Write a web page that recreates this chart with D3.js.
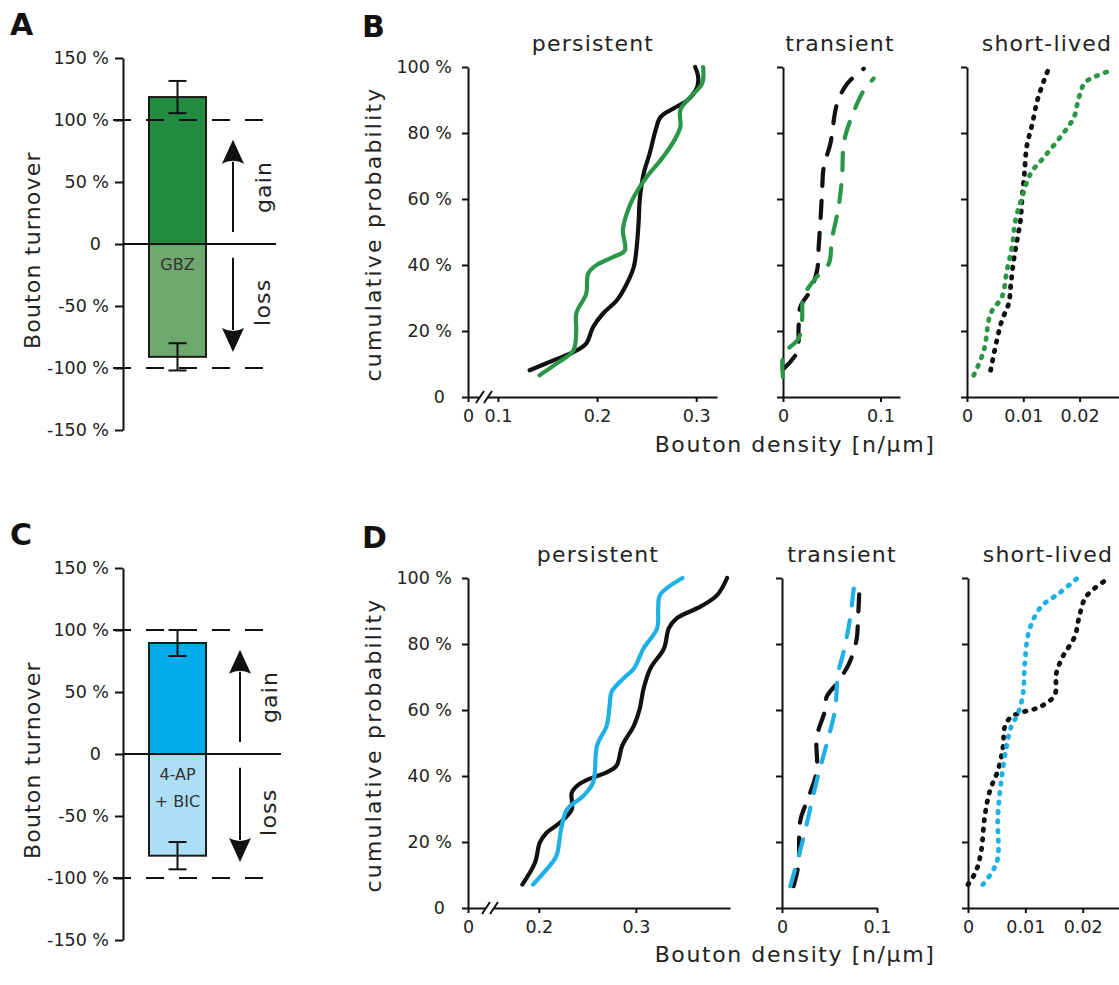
<!DOCTYPE html>
<html><head><meta charset="utf-8">
<script src="https://cdn.jsdelivr.net/npm/d3@7"></script>
<style>
body{margin:0;background:#fff}
svg{display:block}
text{font-family:"DejaVu Sans",sans-serif;fill:#222}
.big{font-size:22px;letter-spacing:1.2px}
</style>
</head><body><svg id="c" width="1119" height="985"></svg>
<script>
// ---------- data ----------
const turnoverTicks = [-150, -100, -50, 0, 50, 100, 150];
const gbzGain = 118.5, gbzGainErr = 13, gbzLoss = -91, gbzLossErr = 11;
const apGain = 89.5, apGainErr = 10.5, apLoss = -82, apLossErr = 11;
const probTicks = [0, 20, 40, 60, 80, 100];

// B persistent
const bPersCtrlX = [0.132,0.156,0.176,0.189,0.196,0.206,0.220,0.230,0.237,0.240,0.242,0.243,0.247,0.253,0.259,0.264,0.277,0.291,0.301,0.302,0.299];
const bPersCtrlP = [8.1,11.1,13.6,16.2,21.2,25.3,29.3,34.3,39.4,45.5,53.5,59.6,67.7,73.7,80.8,84.8,87.4,89.9,93.9,97,100];
const bPersGbzX = [0.142,0.159,0.176,0.179,0.179,0.189,0.191,0.199,0.216,0.228,0.226,0.230,0.237,0.250,0.264,0.277,0.284,0.284,0.294,0.306,0.307];
const bPersGbzP = [6.6,10.1,14.1,20.2,25.3,31.3,37.4,39.9,42.4,44.4,50.5,55.6,60.6,66.7,71.7,77.3,81.8,86.9,90.9,95,100];
// B transient
const bTranCtrlX = [0.0007,0.0144,0.016,0.0178,0.0281,0.035,0.0366,0.0384,0.040,0.0418,0.0486,0.0555,0.0658,0.0829];
const bTranCtrlP = [8.6,13.6,21.2,27.3,32.3,38.4,45.5,53.5,61.6,69.7,76.8,88.9,94.9,99.5];
const bTranGbzX = [0.0,0.0007,0.016,0.0195,0.021,0.0332,0.047,0.050,0.057,0.0606,0.0623,0.069,0.0829,0.093];
const bTranGbzP = [6,13,17.7,23.2,30.3,35.9,40.4,47.5,57.6,66.7,76.8,83.8,92.9,96.5];
// B short-lived
const bShortCtrlX = [0.0042,0.0053,0.0062,0.0074,0.0078,0.0083,0.0089,0.0095,0.0098,0.0102,0.0106,0.0116,0.0125,0.0137,0.0145];
const bShortCtrlP = [8.1,17.2,23.2,28.3,34.3,41.4,47.5,53.5,60.6,67.7,75.8,82.8,89.9,96,99.5];
const bShortGbzX = [0.0012,0.003,0.0042,0.0062,0.0071,0.008,0.0086,0.0098,0.0113,0.0137,0.0166,0.019,0.0199,0.0211,0.0258];
const bShortGbzP = [6.6,14.1,25.3,30.3,38.4,45.5,53.5,60.6,67.7,72.7,78.8,84.8,90.9,95.5,99];
// D persistent
const dPersCtrlX = [0.183,0.196,0.201,0.208,0.222,0.234,0.234,0.242,0.256,0.270,0.280,0.286,0.298,0.304,0.308,0.315,0.329,0.334,0.342,0.367,0.384,0.394];
const dPersCtrlP = [7.1,13.7,19.8,22.8,25.9,29.9,35,37.6,39.6,41.1,43.1,49.2,55.3,60.4,66.5,72.6,78.7,84.8,87.8,91.4,94.9,100];
const dPersApX = [0.194,0.208,0.218,0.223,0.229,0.246,0.256,0.260,0.270,0.273,0.275,0.287,0.298,0.308,0.322,0.323,0.325,0.348];
const dPersApP = [7.1,11.7,15.7,23.9,29.9,34,38.1,49.2,55.3,61.4,65.5,69.5,72.6,78.7,84.8,90.9,94.9,100];
// D transient
const dTranCtrlX = [0.0122,0.0174,0.0192,0.0279,0.0366,0.0366,0.0453,0.047,0.059,0.0714,0.0784,0.0801,0.0819];
const dTranCtrlP = [6.6,13.2,26.4,33.5,41.6,51.8,59.9,64,68.5,74.6,81.2,88.3,99.5];
const dTranApX = [0.0087,0.0209,0.0366,0.047,0.0557,0.059,0.0645,0.0714,0.0767];
const dTranApP = [6.6,19.3,38.6,49.7,59.9,71.1,77.2,87.3,100];
// D short-lived
const dShortCtrlX = [0.0,0.0014,0.0023,0.0029,0.0038,0.0052,0.0061,0.0064,0.0075,0.0096,0.0125,0.0151,0.0154,0.0165,0.0186,0.0194,0.0206,0.0246];
const dShortCtrlP = [7.1,11.2,17.3,27.4,35.5,41.6,48.7,54.8,57.9,59.4,60.9,64.5,71.1,76.1,82.2,88.3,94.4,100];
const dShortApX = [0.0026,0.0043,0.0052,0.0052,0.0058,0.0067,0.0075,0.0087,0.0096,0.0099,0.0107,0.0128,0.0159,0.0191];
const dShortApP = [7.1,11.2,15.2,27.4,38.6,48.7,54.8,58.9,65,74.1,84.3,91.4,95.4,100];

const panelTitles = ["persistent", "transient", "short-lived"];

// ---------- styles ----------
const BLACK = "#111", GREEN = "#2a9646", BLUE = "#1eb0e6";
const svg = d3.select("#c");

function pctFmt(d){ return d === 0 ? "0" : d + " %"; }

function styleAxis(g){
  g.attr("font-family", null).attr("font-size", null);
  g.selectAll("path.domain, .tick line").attr("stroke", "#111").attr("stroke-width", 2);
  g.selectAll(".tick text").style("font-size", "17.5px").style("font-family", '"DejaVu Sans",sans-serif').style("fill", "#222");
}

// ---------- turnover panels ----------
function turnover(cfg){
  const g = svg.append("g");
  const y = d3.scaleLinear().domain([-150, 150]).range([cfg.top + 372, cfg.top]);
  const axX = 123;
  const xb = d3.scaleBand().domain([cfg.label]).range([axX, axX + 109]).padding(0.313);
  g.append("rect").attr("x", xb(cfg.label)).attr("width", xb.bandwidth())
    .attr("y", y(cfg.gain)).attr("height", y(0) - y(cfg.gain))
    .attr("fill", cfg.cGain).attr("stroke", "#1a1a1a").attr("stroke-width", 2);
  g.append("rect").attr("x", xb(cfg.label)).attr("width", xb.bandwidth())
    .attr("y", y(0)).attr("height", y(cfg.loss) - y(0))
    .attr("fill", cfg.cLoss).attr("stroke", "#1a1a1a").attr("stroke-width", 2);
  [100, -100].forEach(v => g.append("line").attr("x1", axX - 10).attr("x2", 268)
    .attr("y1", y(v)).attr("y2", y(v)).attr("stroke", "#111").attr("stroke-width", 2)
    .attr("stroke-dasharray", "18,15"));
  g.append("line").attr("x1", axX).attr("x2", cfg.zeroEnd).attr("y1", y(0)).attr("y2", y(0))
    .attr("stroke", "#111").attr("stroke-width", 2);
  const cx = xb(cfg.label) + xb.bandwidth() / 2;
  [[cfg.gain, cfg.gainErr], [cfg.loss, cfg.lossErr]].forEach(([m, e]) => {
    g.append("line").attr("x1", cx).attr("x2", cx).attr("y1", y(m - e)).attr("y2", y(m + e))
      .attr("stroke", "#111").attr("stroke-width", 2);
    [m - e, m + e].forEach(v => g.append("line").attr("x1", cx - 9).attr("x2", cx + 9)
      .attr("y1", y(v)).attr("y2", y(v)).attr("stroke", "#111").attr("stroke-width", 2));
  });
  const ax = g.append("g").attr("transform", `translate(${axX},0)`)
    .call(d3.axisLeft(y).tickValues(turnoverTicks).tickSize(8).tickPadding(6).tickSizeOuter(0).tickFormat(pctFmt));
  styleAxis(ax);
  ax.selectAll(".tick text").filter(d => d === 0).attr("dx", "-8");
  cfg.text.forEach((t, i) => g.append("text").attr("x", cx).attr("y", y(cfg.textAt) + i * 27)
    .attr("text-anchor", "middle").style("font-size", "16px").style("fill", "#333").text(t));
  const ax2 = cfg.arrowX;
  function arrow(from, to){
    const yf = y(from), yt = y(to), dir = yt < yf ? 1 : -1;
    const yb = yt + dir * 22;
    g.append("line").attr("x1", ax2).attr("x2", ax2).attr("y1", yf).attr("y2", yb)
      .attr("stroke", "#111").attr("stroke-width", 2);
    g.append("path").attr("d", `M${ax2},${yt} L${ax2 - 11},${yb + dir * 2} Q${ax2},${yb - dir * 4} ${ax2 + 11},${yb + dir * 2} Z`)
      .attr("fill", "#111");
  }
  arrow(9.7, 84);
  arrow(-11, -87);
  g.append("text").attr("class", "big").attr("transform", `translate(${cfg.wordX},${y(46)}) rotate(-90)`)
    .attr("text-anchor", "middle").text("gain");
  g.append("text").attr("class", "big").attr("transform", `translate(${cfg.wordX - 1},${y(-47)}) rotate(-90)`)
    .attr("text-anchor", "middle").text("loss");
  g.append("text").attr("class", "big").attr("transform", `translate(40,${y(-5)}) rotate(-90)`)
    .attr("text-anchor", "middle").text("Bouton turnover");
  g.append("text").attr("x", 10).attr("y", cfg.top - 23).style("font-size", "30px").style("font-weight", "bold")
    .style("fill", "#111").text(cfg.letter);
}

turnover({top: 58, label: "GBZ", gain: gbzGain, gainErr: gbzGainErr, loss: gbzLoss, lossErr: gbzLossErr,
  cGain: "#228c43", cLoss: "#6ea86e", text: ["GBZ"], textAt: -21, arrowX: 233, wordX: 271, zeroEnd: 276, letter: "A"});
turnover({top: 568, label: "4-AP + BIC", gain: apGain, gainErr: apGainErr, loss: apLoss, lossErr: apLossErr,
  cGain: "#00abe9", cLoss: "#acdff6", text: ["4-AP", "+ BIC"], textAt: -21, arrowX: 240, wordX: 277, zeroEnd: 281, letter: "C"});

// ---------- CDF panels ----------
const lineGen = (x, y) => d3.line().x(d => x(d[0])).y(d => y(d[1])).curve(d3.curveCatmullRom.alpha(0.5));
const zip = (a, b) => a.map((v, i) => [v, b[i]]);

function cdfPanel(cfg){
  const g = svg.append("g");
  const y = d3.scaleLinear().domain([0, 100]).range([cfg.bottom, cfg.bottom - 330]);
  const x = d3.scaleLinear().domain(cfg.domain).range(cfg.range);
  const axX = cfg.range[0];
  const xa = g.append("g").attr("transform", `translate(0,${cfg.bottom})`)
    .call(d3.axisBottom(x).tickValues(cfg.ticks).tickSize(5).tickPadding(8).tickSizeOuter(0).tickFormat(d => d === 0 ? "0" : d3.format("")(d)));
  styleAxis(xa);
  const ya = g.append("g").attr("transform", `translate(${axX},0)`)
    .call(d3.axisLeft(y).tickValues(probTicks).tickSize(6).tickPadding(10).tickSizeOuter(0)
      .tickFormat(cfg.labels ? pctFmt : ""));
  styleAxis(ya);
  ya.selectAll(".tick text").filter(d => d === 0).attr("dx", "-7");
  if (cfg.brk) {
    const [c1, c2] = cfg.brk;
    g.append("rect").attr("x", c1).attr("width", c2 - c1).attr("y", cfg.bottom - 2).attr("height", 4).attr("fill", "#fff");
    [c1, c2].forEach(c => g.append("line").attr("x1", c - 4).attr("x2", c + 4)
      .attr("y1", cfg.bottom + 6).attr("y2", cfg.bottom - 6).attr("stroke", "#111").attr("stroke-width", 2));
  }
  cfg.series.forEach(s => {
    g.append("path").datum(zip(s.x, s.p)).attr("d", lineGen(x, y)).attr("fill", "none")
      .attr("stroke", s.color).attr("stroke-width", cfg.lw).attr("stroke-linecap", "round")
      .attr("stroke-dasharray", cfg.dash);
  });
  g.append("text").attr("class", "big").attr("x", cfg.titleX).attr("y", cfg.bottom - 346)
    .attr("text-anchor", "middle").text(cfg.title);
  if (cfg.labels) {
    g.append("text").attr("class", "big").style("letter-spacing", "2.2px")
      .attr("transform", `translate(381,${cfg.bottom - 163}) rotate(-90)`)
      .attr("text-anchor", "middle").text("cumulative probability");
    g.append("text").attr("x", 362).attr("y", cfg.bottom - 360)
      .style("font-size", "30px").style("font-weight", "bold").style("fill", "#111").text(cfg.letter);
  }
}

function row(bottom, letter, persDomain, persRange, persTicks, brk, tranDomain, tranRange, shortDomain, shortRange, s, titleXs, xlabY){
  cdfPanel({bottom, letter, labels: true, domain: persDomain, range: persRange, ticks: persTicks, brk,
    series: s[0], dash: null, lw: 4.2, title: panelTitles[0], titleX: titleXs[0]});
  cdfPanel({bottom, domain: tranDomain, range: tranRange, ticks: [0, 0.1],
    series: s[1], dash: "17,15", lw: 4.2, title: panelTitles[1], titleX: titleXs[1]});
  cdfPanel({bottom, domain: shortDomain, range: shortRange, ticks: [0, 0.01, 0.02],
    series: s[2], dash: "1.5,8", lw: 4.8, title: panelTitles[2], titleX: titleXs[2]});
  svg.append("text").attr("class", "big").style("letter-spacing", "1.6px").attr("x", 795).attr("y", xlabY).attr("text-anchor", "middle")
    .text("Bouton density [n/µm]");
}

row(397, "B", [0, 0.095, 0.321], [468, 493, 717], [0, 0.1, 0.2, 0.3], [480, 488],
  [0, 0.12], [783, 900], [0, 0.027], [967, 1119],
  [[{x: bPersCtrlX, p: bPersCtrlP, color: BLACK}, {x: bPersGbzX, p: bPersGbzP, color: GREEN}],
   [{x: bTranCtrlX, p: bTranCtrlP, color: BLACK}, {x: bTranGbzX, p: bTranGbzP, color: GREEN}],
   [{x: bShortCtrlX, p: bShortCtrlP, color: BLACK}, {x: bShortGbzX, p: bShortGbzP, color: GREEN}]],
  [593, 840, 1047], 452);

row(908, "D", [0, 0.16, 0.397], [468, 500, 730], [0, 0.2, 0.3], [486, 494],
  [0, 0.1], [782, 877], [0, 0.0265], [968, 1120],
  [[{x: dPersCtrlX, p: dPersCtrlP, color: BLACK}, {x: dPersApX, p: dPersApP, color: BLUE}],
   [{x: dTranCtrlX, p: dTranCtrlP, color: BLACK}, {x: dTranApX, p: dTranApP, color: BLUE}],
   [{x: dShortCtrlX, p: dShortCtrlP, color: BLACK}, {x: dShortApX, p: dShortApP, color: BLUE}]],
  [598, 842, 1048], 962);
</script>
</body></html>
